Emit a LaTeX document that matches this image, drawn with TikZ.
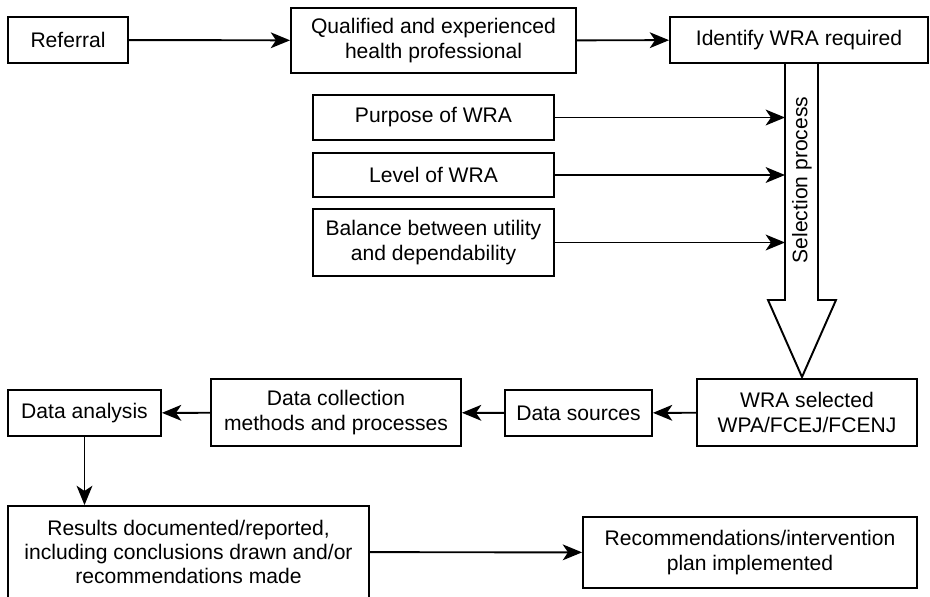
\documentclass[tikz,border=0pt]{standalone}
\usepackage{fontspec}
\setmainfont{Liberation Sans}
\usetikzlibrary{arrows.meta,calc}

\begin{document}
\begin{tikzpicture}[>={Stealth[length=11pt,width=9pt,inset=3pt]}, x=0.02cm, y=-0.02cm,
    line width=1.1pt,
    bx/.style={draw,align=center,inner sep=2pt,
               font=\fontsize{12}{13.8}\selectfont}]
    \useasboundingbox (0,0) rectangle (930,596);
    \node[bx,minimum width=2.4cm,minimum height=0.92cm]  (ref)   at (68,40)     {Referral};
    \node[bx,minimum width=5.7cm,minimum height=1.3cm]   (qual)  at (433.5,40.5) {Qualified and experienced\\health professional};
    \node[bx,minimum width=5.16cm,minimum height=0.92cm] (ident) at (799,40)    {Identify WRA required};
    \node[bx,minimum width=4.82cm,minimum height=0.9cm]  (purp)  at (433.5,117.5) {Purpose of WRA};
    \node[bx,minimum width=4.82cm,minimum height=0.88cm] (level) at (433.5,175) {Level of WRA};
    \node[bx,minimum width=4.82cm,minimum height=1.34cm] (bal)   at (433.5,242.5) {Balance between utility\\and dependability};
    \node[bx,minimum width=4.4cm,minimum height=1.34cm]  (wra)   at (807,412.5) {WRA selected\\WPA/FCEJ/FCENJ};
    \node[bx,minimum width=2.94cm,minimum height=0.92cm] (src)   at (578.5,413) {Data sources};
    \node[bx,minimum width=5.0cm,minimum height=1.34cm]  (coll)  at (336,412.5) {Data collection\\methods and processes};
    \node[bx,minimum width=3.06cm,minimum height=0.92cm] (anal)  at (84.5,413)  {Data analysis};
    \node[bx,minimum width=7.22cm,minimum height=1.84cm] (res)   at (188.5,552) {Results documented/reported,\\including conclusions drawn and/or\\recommendations made};
    \node[bx,minimum width=6.68cm,minimum height=1.42cm] (rec)   at (750,552.5) {Recommendations/intervention\\plan implemented};
    % selection process arrow
    \draw (785,63) -- (785,300) -- (768,300) -- (802,377) -- (836,300) -- (818,300) -- (818,63);
    \coordinate (shaft) at (785,180);
    \node[rotate=90,font=\fontsize{12}{13.8}\selectfont] (sel) at (802,180) {Selection process};
    \foreach \a/\b in {ref/qual,qual/ident,wra/src,src/coll,coll/anal,res/rec} \draw[->] (\a)--(\b);
    \foreach \a in {purp,level,bal} \draw[->] (\a.east)--(\a.east -| shaft);
    \draw[->] (anal.south)--(anal.south |- res.north);
  \end{tikzpicture}
\end{document}
